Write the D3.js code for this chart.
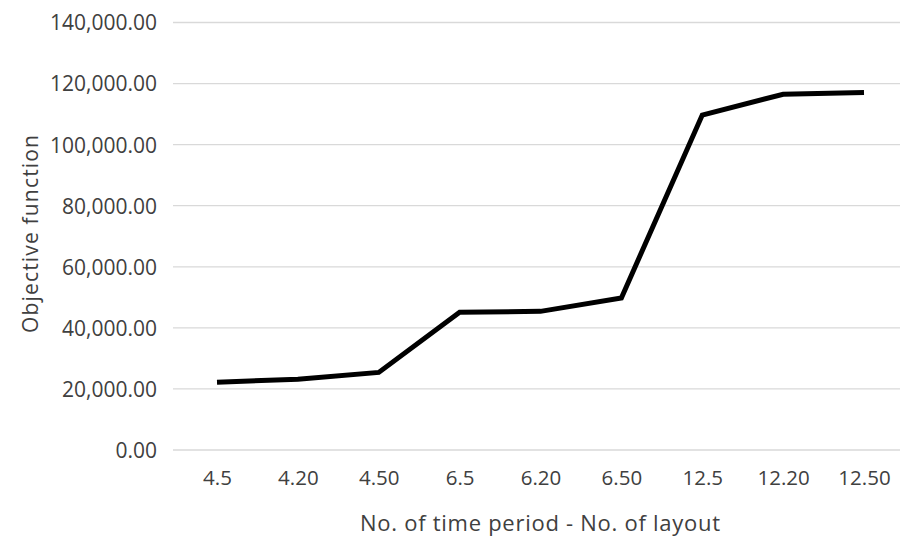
<!DOCTYPE html>
<html>
<head>
<meta charset="utf-8">
<script src="https://cdn.jsdelivr.net/npm/d3@7"></script>
<style>
  html, body { margin: 0; padding: 0; background: #fff; }
  svg { display: block; }
  text { font-family: "Open Sans", "Liberation Sans", sans-serif; fill: #404040; }
</style>
</head>
<body>
<svg id="chart" width="900" height="537"></svg>
<script>
// Scenario labels: time periods . layouts
const categories = ["4.5", "4.20", "4.50", "6.5", "6.20", "6.50", "12.5", "12.20", "12.50"];
// Objective function value for each scenario
const objectiveValues = [22200, 23200, 25400, 45100, 45400, 49800, 109700, 116500, 117100];
// Value-axis ticks
const yTicks = [0, 20000, 40000, 60000, 80000, 100000, 120000, 140000];

const svg = d3.select("#chart");
const W = 900, H = 537;

const x = d3.scalePoint()
  .domain(categories)
  .range([217, 864]);

const y = d3.scaleLinear()
  .domain([0, 140000])
  .range([450, 22.5]);

const fmt = d3.format(",.2f");

// Horizontal gridlines
svg.append("g")
  .selectAll("line")
  .data(yTicks)
  .join("line")
  .attr("x1", 173)
  .attr("x2", W)
  .attr("y1", d => y(d))
  .attr("y2", d => y(d))
  .attr("stroke", "#d9d9d9")
  .attr("stroke-width", 1.3);

// Value axis labels
const yAxis = d3.axisLeft(y).tickValues(yTicks).tickFormat(fmt).tickSize(0).tickPadding(0);
const gy = svg.append("g").attr("transform", "translate(157,0)").call(yAxis);
gy.select(".domain").remove();
gy.selectAll("text")
  .attr("font-size", 21)
  .attr("font-family", "Open Sans")
  .attr("fill", "#404040")
  .attr("dy", "0.35em");

// Category axis labels
const xAxis = d3.axisBottom(x).tickSize(0).tickPadding(0);
const gx = svg.append("g").attr("transform", "translate(0,470)").call(xAxis);
gx.select(".domain").remove();
gx.selectAll("text")
  .attr("font-size", 20.5)
  .attr("font-family", "Open Sans")
  .attr("fill", "#404040")
  .attr("dy", "0.71em");

// The series line
const line = d3.line()
  .x((d, i) => x(categories[i]))
  .y(d => y(d));

svg.append("path")
  .datum(objectiveValues)
  .attr("d", line)
  .attr("fill", "none")
  .attr("stroke", "#000")
  .attr("stroke-width", 5)
  .attr("stroke-linejoin", "miter")
  .attr("stroke-linecap", "butt");

// Axis titles
svg.append("text")
  .attr("x", 540)
  .attr("y", 531)
  .attr("text-anchor", "middle")
  .attr("font-size", 22)
  .attr("textLength", 360)
  .attr("lengthAdjust", "spacing")
  .text("No. of time period - No. of layout");

svg.append("text")
  .attr("transform", "translate(38,234) rotate(-90)")
  .attr("text-anchor", "middle")
  .attr("font-size", 21)
  .attr("textLength", 198)
  .attr("lengthAdjust", "spacing")
  .text("Objective function");
</script>
</body>
</html>
